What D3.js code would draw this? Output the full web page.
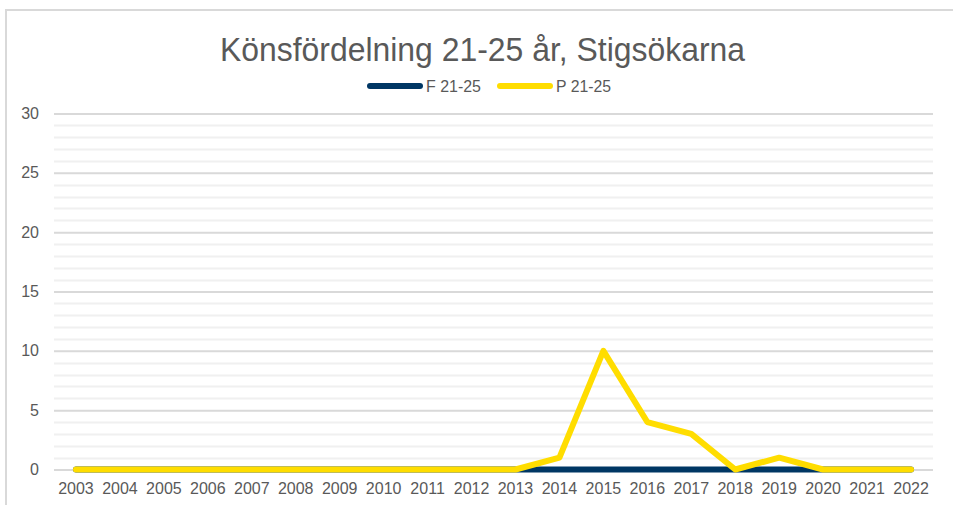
<!DOCTYPE html>
<html>
<head>
<meta charset="utf-8">
<script src="https://cdn.jsdelivr.net/npm/d3@7"></script>
<style>
  html, body { margin: 0; padding: 0; background: #fff; }
  svg { display: block; font-family: "Liberation Sans", Arial, sans-serif; }
</style>
</head>
<body>
<svg id="chart" width="953" height="505"></svg>
<script>
// Chart data
const years = ["2003","2004","2005","2006","2007","2008","2009","2010","2011","2012",
               "2013","2014","2015","2016","2017","2018","2019","2020","2021","2022"];
const f2125 = [0,0,0,0,0,0,0,0,0,0,0,0,0,0,0,0,0,0,0,0];
const p2125 = [0,0,0,0,0,0,0,0,0,0,0,1,10,4,3,0,1,0,0,0];
const yTicks = [0, 5, 10, 15, 20, 25, 30];
const seriesNames = ["F 21-25", "P 21-25"];
const seriesColors = ["#003764", "#FFDD00"];

const svg = d3.select("#chart");
const W = 953, H = 505;
const margin = { left: 54, right: 20, top: 113.5, bottom: 35.5 };

// Outer chart frame (only top and left edges fall inside the window)
svg.append("rect")
  .attr("x", 6).attr("y", 10)
  .attr("width", W).attr("height", H)
  .attr("fill", "#fff")
  .attr("stroke", "#d9d9d9").attr("stroke-width", 2);

const x = d3.scaleBand().domain(years).range([margin.left, W - margin.right]);
const y = d3.scaleLinear().domain([0, 30]).range([H - margin.bottom, margin.top]);

// Minor gridlines every unit
const minor = d3.range(0, 31).filter(v => v % 5 !== 0);
svg.append("g").selectAll("line").data(minor).join("line")
  .attr("x1", margin.left).attr("x2", W - margin.right)
  .attr("y1", d => Math.round(y(d)) + 0.5).attr("y2", d => Math.round(y(d)) + 0.5)
  .attr("stroke", "#f0f0f0").attr("stroke-width", 2);

// Major gridlines + y axis labels
const yAxis = d3.axisLeft(y).tickValues(yTicks).tickSize(-(W - margin.left - margin.right)).tickPadding(15);
const gy = svg.append("g").attr("transform", `translate(${margin.left},0)`).call(yAxis);
gy.select(".domain").remove();
gy.selectAll(".tick line").attr("stroke", "#d9d9d9").attr("stroke-width", 2);
gy.selectAll(".tick text").attr("fill", "#595959").attr("font-size", 16);

// X axis labels
const xAxis = d3.axisBottom(x).tickSize(0).tickPadding(13);
const gx = svg.append("g").attr("transform", `translate(0,${H - margin.bottom})`).call(xAxis);
gx.select(".domain").remove();
gx.selectAll(".tick text").attr("fill", "#595959").attr("font-size", 16);

// Lines
const line = d3.line()
  .x((d, i) => x(years[i]) + x.bandwidth() / 2)
  .y(d => y(d));
[f2125, p2125].forEach((vals, k) => {
  svg.append("path")
    .datum(vals)
    .attr("d", line)
    .attr("fill", "none")
    .attr("stroke", seriesColors[k])
    .attr("stroke-width", 6)
    .attr("stroke-linejoin", "round")
    .attr("stroke-linecap", "round");
});

// Title
svg.append("text")
  .attr("x", 482.5).attr("y", 61)
  .attr("text-anchor", "middle")
  .attr("fill", "#595959")
  .attr("font-size", 34)
  .attr("textLength", 525)
  .attr("lengthAdjust", "spacingAndGlyphs")
  .text("Könsfördelning 21-25 år, Stigsökarna");

// Legend
const legendX = [370, 500];
seriesNames.forEach((name, k) => {
  const g = svg.append("g").attr("transform", `translate(${legendX[k]},86)`);
  g.append("line")
    .attr("x1", 0).attr("x2", 50)
    .attr("stroke", seriesColors[k]).attr("stroke-width", 6)
    .attr("stroke-linecap", "round");
  g.append("text")
    .attr("x", 56).attr("y", 5.5)
    .attr("fill", "#595959").attr("font-size", 16)
    .attr("textLength", 55)
    .attr("lengthAdjust", "spacingAndGlyphs")
    .text(name);
});
</script>
</body>
</html>
